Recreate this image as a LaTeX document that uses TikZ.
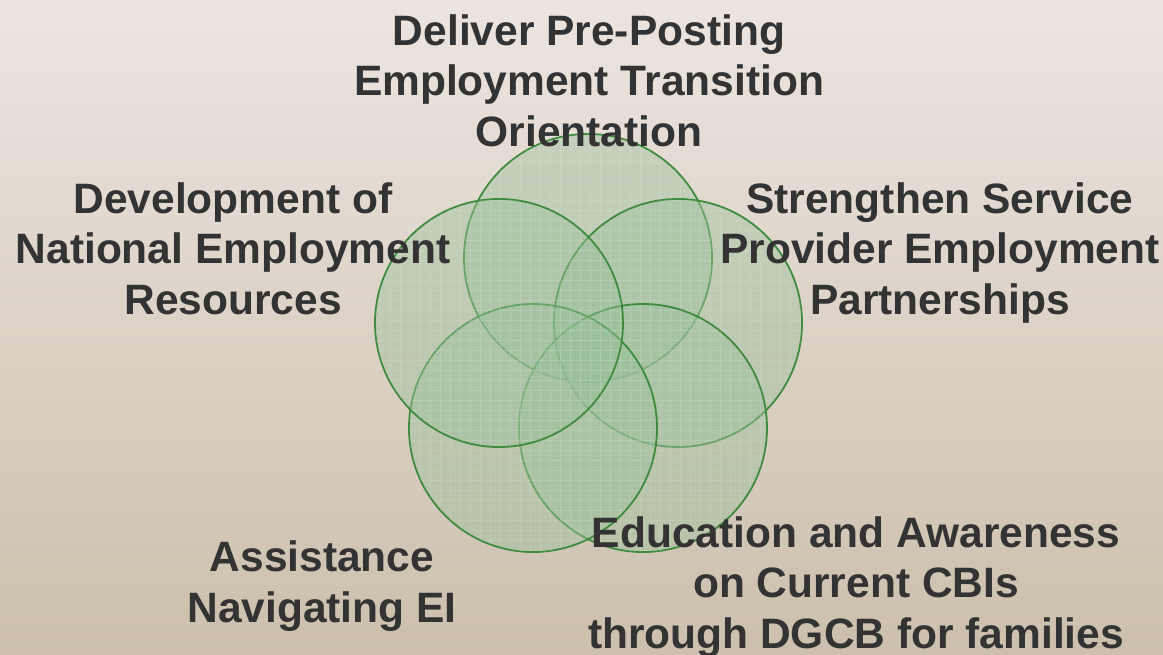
\documentclass[tikz,border=0pt]{standalone}
\usepackage{fontspec}
\setmainfont{Liberation Sans}
\definecolor{bgtop}{RGB}{236,229,224}
\definecolor{bgbot}{RGB}{204,191,173}
\definecolor{txt}{RGB}{51,51,51}
\definecolor{petalfill}{RGB}{155,192,155}
\definecolor{petaledge}{RGB}{56,136,56}
\begin{document}
\begin{tikzpicture}[x=1pt,y=-1pt,
  lbl/.style={font=\bfseries\fontsize{42.5}{50.5}\selectfont, text=txt, align=center, inner sep=0pt, anchor=base},
  petal/.style={fill=petalfill, fill opacity=0.45, draw=petaledge, line width=1.8pt, draw opacity=0.95},
  gridline/.style={draw=white, draw opacity=0.1, line width=0.5pt}]
\shade[top color=bgtop, bottom color=bgbot] (0,0) rectangle (1163,654);
\useasboundingbox (0,0) rectangle (1163,654);
\coordinate (ctop) at (588,258);
\coordinate (cright) at (678,323);
\coordinate (cbr) at (643,428);
\coordinate (cbl) at (533,428);
\coordinate (cleft) at (499,323);
\foreach \c in {ctop,cright,cbr,cbl,cleft}{
  \path[petal] (\c) circle[radius=124pt];
  \begin{scope}
    \clip (\c) circle[radius=124pt];
    \draw[gridline,step=10pt] (340,120) grid (820,580);
  \end{scope}
}
\node[lbl] (ttop) at (589,146) {Deliver Pre-Posting\\Employment Transition\\Orientation};
\node[lbl] (tleft) at (233,314) {Development of\\National Employment\\Resources};
\node[lbl] (tright) at (940,314) {Strengthen Service\\Provider Employment\\Partnerships};
\node[lbl] (tbl) at (322,622) {Assistance\\Navigating EI};
\node[lbl] (tbr) at (856,648) {Education and Awareness\\on Current CBIs\\through DGCB for families};
\end{tikzpicture}
\end{document}
